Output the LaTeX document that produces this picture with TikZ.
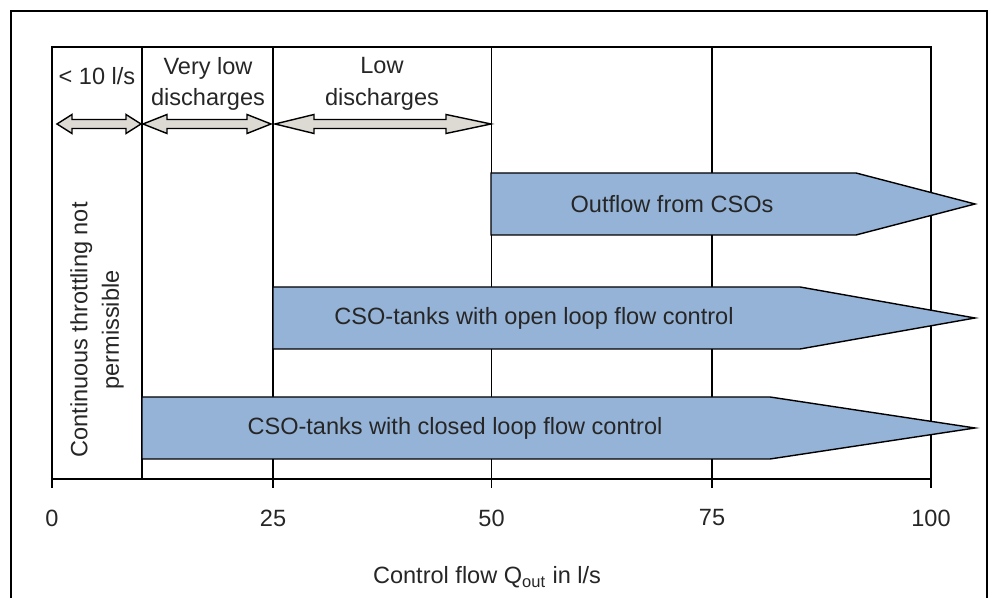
\documentclass[tikz,border=0pt]{standalone}
\usepackage{fontspec}
\setmainfont{Liberation Sans}
\usepackage{tikz}
\definecolor{barblue}{RGB}{149,179,215}
\definecolor{rangegray}{RGB}{221,217,211}
\tikzset{
  txt/.style={font=\fontsize{13.4}{18}\selectfont, inner sep=0pt, align=center, text=black!85},
  flowbar/.style={draw, line width=0.8pt, fill=barblue, line join=miter},
  rangearrow/.style={draw, line width=0.8pt, fill=rangegray, line join=miter},
}
\begin{document}
\begin{tikzpicture}[line width=0.8pt]
		\useasboundingbox (0,0) rectangle (19.84,11.96);
		%Rahmen
		\draw [line width=0.6pt] (0.22,0) -- (0.22,11.74) -- (19.74,11.74) -- (19.74,0);
		%Diagramm
		\draw (1.04,2.38) rectangle (18.62,11.02);
		\draw (2.84,2.38) -- (2.84,11.02);
		\draw (5.46,2.2) -- (5.46,11.02);
		\draw (9.83,2.2) -- (9.83,11.02);
		\draw (14.24,2.2) -- (14.24,11.02);
		\draw (1.04,2.38) -- (1.04,2.2);
		\draw (18.62,2.38) -- (18.62,2.2);
		%Bereiche
		\draw [rangearrow] (1.14,9.48) -- (1.44,9.67) -- (1.44,9.57) -- (2.52,9.57) -- (2.52,9.67) -- (2.82,9.48) -- (2.52,9.29) -- (2.52,9.39) -- (1.44,9.39) -- (1.44,9.29) -- cycle;
		\draw [rangearrow] (2.86,9.48) -- (3.34,9.67) -- (3.34,9.57) -- (4.94,9.57) -- (4.94,9.67) -- (5.42,9.48) -- (4.94,9.29) -- (4.94,9.39) -- (3.34,9.39) -- (3.34,9.29) -- cycle;
		\draw [rangearrow] (5.50,9.48) -- (6.28,9.67) -- (6.28,9.57) -- (8.92,9.57) -- (8.92,9.67) -- (9.82,9.48) -- (8.92,9.29) -- (8.92,9.39) -- (6.28,9.39) -- (6.28,9.29) -- cycle;
		\node [txt] (lt10) at (1.94,10.44) {< 10 l/s};
		\node [txt] (verylow) at (4.16,10.28) {Very low\\discharges};
		\node [txt] (low) at (7.64,10.28) {Low\\discharges};
		\node [txt, rotate=90] (nothrottle) at (1.94,5.36) {Continuous throttling not\\permissible};
		%Pfeile
		\draw [flowbar] (9.82,8.5) -- (17.12,8.5) -- (19.5,7.88) -- (17.12,7.26) -- (9.82,7.26) -- cycle;
		\node [txt] (outflow) at (13.44,7.88) {Outflow from CSOs};
		\draw [flowbar] (5.46,6.22) -- (16.0,6.22) -- (19.5,5.6) -- (16.0,4.98) -- (5.46,4.98) -- cycle;
		\node [txt] (openloop) at (10.68,5.6) {CSO-tanks with open loop flow control};
		\draw [flowbar] (2.84,4.02) -- (15.4,4.02) -- (19.5,3.4) -- (15.4,2.78) -- (2.84,2.78) -- cycle;
		\node [txt] (closedloop) at (9.1,3.4) {CSO-tanks with closed loop flow control};
		%Achse
		\node [txt] (t0) at (1.04,1.6) {0};
		\node [txt] (t25) at (5.46,1.6) {25};
		\node [txt] (t50) at (9.83,1.6) {50};
		\node [txt] (t75) at (14.24,1.6) {75};
		\node [txt] (t100) at (18.62,1.6) {100};
		\node [txt] (xlabel) at (9.74,0.42) {Control flow Q\textsubscript{out} in l/s};
\end{tikzpicture}
\end{document}
